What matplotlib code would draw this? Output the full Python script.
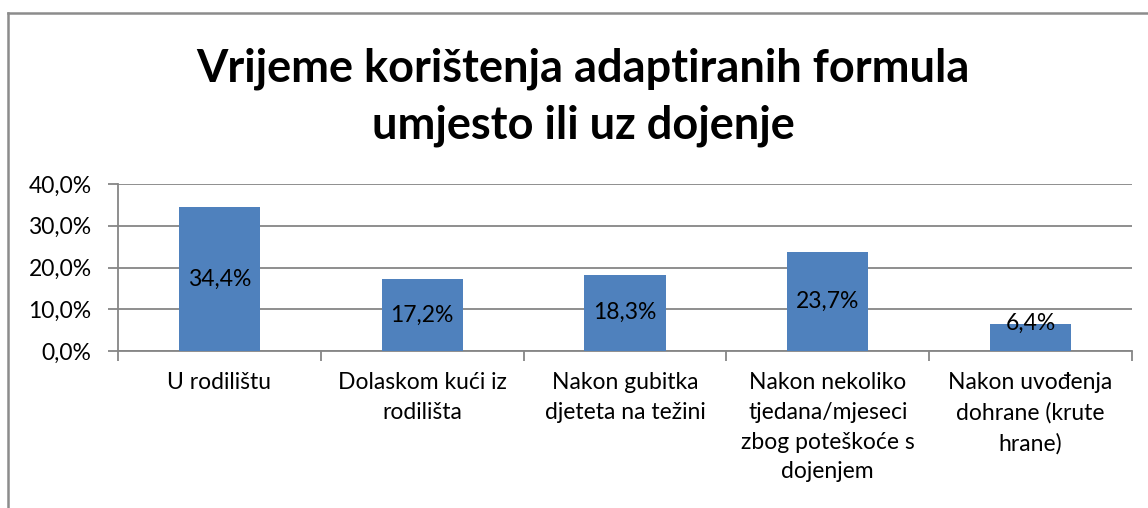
import matplotlib.pyplot as plt
from matplotlib.lines import Line2D

# Kategorije i vrijednosti (%)
kategorije = [
    "U rodilištu",
    "Dolaskom kući iz\nrodilišta",
    "Nakon gubitka\ndjeteta na težini",
    "Nakon nekoliko\ntjedana/mjeseci\nzbog poteškoće s\ndojenjem",
    "Nakon uvođenja\ndohrane (krute\nhrane)",
]
vrijednosti = [34.4, 17.2, 18.3, 23.7, 6.4]
y_ticks = [0, 10, 20, 30, 40]

plt.rcParams['font.family'] = ['Lato', 'DejaVu Sans']
fs = 16.5

fig = plt.figure(figsize=(11.48, 5.08), dpi=100)
ax = fig.add_axes([118 / 1148, 1 - 351 / 508, (1132 - 118) / 1148, (351 - 184) / 508])

x = range(len(vrijednosti))
ax.bar(x, vrijednosti, width=0.4, color='#4F81BD', zorder=3)

# Oznake podataka u sredini stupca
for i, v in zip(x, vrijednosti):
    ax.text(i, max(v / 2, 6.7), f"{v:.1f}%".replace('.', ','),
            ha='center', va='center', fontsize=fs, zorder=4)

ax.set_xlim(-0.5, len(vrijednosti) - 0.5)
ax.set_ylim(0, 40)
ax.set_yticks(y_ticks)
ax.set_yticklabels([f"{t:.1f}%".replace('.', ',') for t in y_ticks], fontsize=fs)
ax.yaxis.grid(True, color='#868686', linewidth=1.3, zorder=0)

ax.set_xticks(list(x))
ax.set_xticklabels(kategorije, fontsize=fs, linespacing=1.52, va='top')
ax.set_xticks([i - 0.5 for i in range(len(vrijednosti) + 1)], minor=True)
ax.tick_params(axis='x', which='major', length=0, pad=15)
ax.tick_params(axis='x', which='minor', length=7, color='#868686', width=1.3)
ax.tick_params(axis='y', length=7, color='#868686', width=1.3, pad=12)

for s in ['top', 'right']:
    ax.spines[s].set_visible(False)
ax.spines['left'].set_color('#868686')
ax.spines['bottom'].set_color('#868686')
ax.spines['left'].set_linewidth(1.3)
ax.spines['bottom'].set_linewidth(1.3)

# Naslov
fig.text(0.508, 1 - 97 / 508, "Vrijeme korištenja adaptiranih formula\numjesto ili uz dojenje",
         ha='center', va='center', fontsize=32.5, fontweight='bold', linespacing=1.42)

# Okvir grafikona (vidljiv samo gore i lijevo)
fig.add_artist(Line2D([8 / 1148, 1], [1 - 13 / 508, 1 - 13 / 508], color='#8c8c8c', linewidth=1.8))
fig.add_artist(Line2D([8 / 1148, 8 / 1148], [0, 1 - 13 / 508], color='#8c8c8c', linewidth=1.8))

fig.savefig('out.png', dpi=100, facecolor='white')
